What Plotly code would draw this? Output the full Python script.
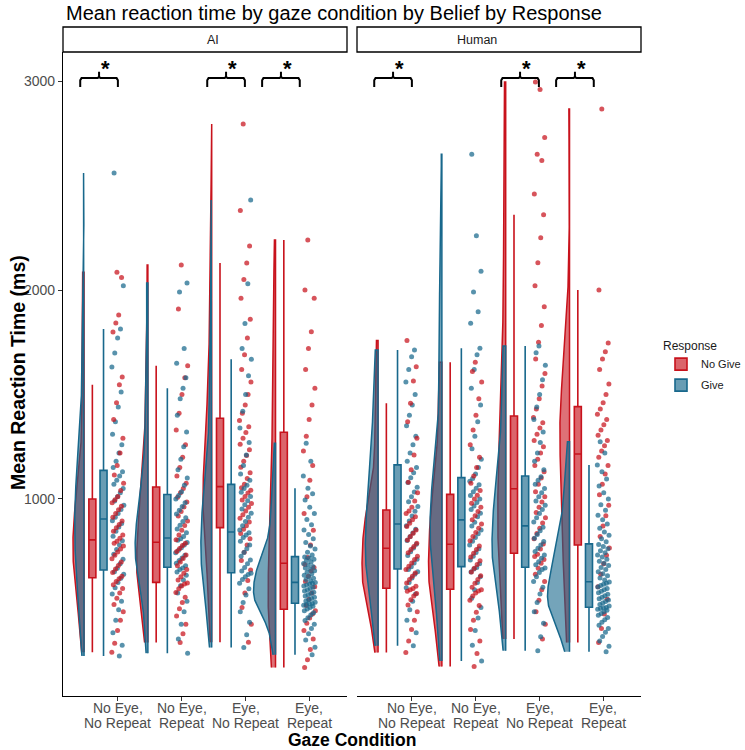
import numpy as np
import plotly.graph_objects as go

# ---------------- data ----------------
conditions = ["No Eye,\nNo Repeat", "No Eye,\nRepeat", "Eye,\nNo Repeat", "Eye,\nRepeat"]
beliefs = ["AI", "Human"]
responses = ["No Give", "Give"]
y_ticks = [1000, 2000, 3000]

# participant mean reaction times (ms), read from the jittered point clouds
ai_nogive_c1 = [266, 310, 370, 420, 460, 495, 525, 550, 572, 590, 605, 618, 630, 648, 665, 682, 698, 714, 730, 746, 760, 775, 788, 798,
                812, 828, 845, 862, 878, 895, 912, 930, 948, 965, 982, 996, 1012, 1040, 1075, 1115, 1160, 1220, 1290, 1380, 1460, 1546,
                1584, 1799, 1842, 1880, 2060, 2085]
ai_nogive_c2 = [313, 355, 400, 440, 475, 505, 530, 552, 570, 583, 593, 598, 612, 628, 645, 662, 680, 698, 715, 732, 748, 763, 777, 788,
                805, 828, 850, 873, 895, 918, 940, 962, 985, 1008, 1030, 1050, 1075, 1110, 1150, 1200, 1260, 1330, 1410, 1500, 1580, 1638,
                1909, 2120]
ai_nogive_c3 = [314, 400, 480, 550, 610, 660, 705, 745, 780, 810, 835, 855, 872, 890, 908, 925, 942, 960, 978, 995, 1012, 1028, 1042, 1054,
                1070, 1098, 1125, 1152, 1180, 1208, 1235, 1262, 1290, 1318, 1345, 1375, 1410, 1450, 1500, 1560, 1620, 1690, 1770, 1860,
                1960, 2050, 2129, 2210, 2380, 2794]
ai_nogive_c4 = [193, 230, 280, 330, 370, 405, 430, 450, 465, 490, 520, 550, 580, 605, 630, 655, 672, 686, 720, 780, 850, 930, 1010, 1090,
                1160, 1230, 1300, 1380, 1450, 1530, 1620, 1720, 1800, 1960, 2000, 2239]

ai_give_c1 = [249, 300, 360, 420, 470, 510, 545, 575, 600, 620, 640, 652, 668, 690, 712, 735, 758, 780, 800, 822, 845, 866, 882, 896,
              912, 930, 950, 970, 990, 1010, 1030, 1050, 1070, 1090, 1110, 1130, 1150, 1180, 1220, 1260, 1310, 1370, 1440, 1512, 1632,
              1699, 1770, 1813, 2020, 2560]
ai_give_c2 = [262, 330, 400, 460, 510, 550, 585, 612, 635, 650, 662, 670, 680, 692, 705, 718, 730, 742, 755, 767, 780, 792, 802, 810,
              820, 838, 856, 874, 892, 910, 928, 946, 964, 982, 1000, 1016, 1035, 1065, 1100, 1140, 1190, 1250, 1320, 1400, 1480, 1530,
              1580, 1650, 1720, 1990, 2034]
ai_give_c3 = [289, 350, 410, 460, 505, 540, 570, 596, 615, 628, 638, 644, 655, 672, 690, 708, 726, 744, 762, 780, 798, 815, 828, 838,
              852, 872, 892, 912, 932, 952, 972, 992, 1012, 1032, 1050, 1066, 1090, 1120, 1160, 1210, 1270, 1340, 1420, 1500, 1590,
              1668, 1720, 1840, 2030, 2431]
ai_give_c4 = [254, 290, 325, 355, 380, 400, 418, 432, 445, 456, 465, 473, 480, 486, 491, 495, 498, 500, 506, 512, 518, 524, 530, 536,
              542, 548, 554, 560, 566, 572, 578, 584, 589, 593, 597, 600, 607, 614, 621, 628, 635, 642, 649, 656, 663, 670, 677, 684,
              691, 698, 705, 711, 717, 722, 732, 745, 760, 775, 792, 810, 830, 852, 876, 902, 930, 960, 995, 1025, 1051, 1110, 1180, 1266]

human_nogive_c1 = [265, 320, 375, 420, 460, 492, 518, 535, 548, 558, 566, 571, 582, 598, 614, 630, 646, 662, 678, 694, 710, 726, 742, 758,
                   772, 788, 804, 820, 836, 852, 868, 884, 900, 915, 930, 942, 960, 990, 1030, 1080, 1140, 1210, 1290, 1370, 1458, 1565,
                   1633, 1758]
human_nogive_c2 = [198, 260, 320, 375, 420, 458, 490, 515, 535, 550, 560, 565, 578, 596, 614, 632, 650, 668, 686, 704, 722, 740, 758, 775,
                   800, 820, 840, 860, 880, 900, 920, 940, 960, 980, 1000, 1018, 1040, 1075, 1110, 1150, 1200, 1260, 1330, 1400, 1480,
                   1560, 1610, 1654]
human_nogive_c3 = [330, 400, 460, 515, 565, 605, 640, 668, 692, 710, 725, 735, 760, 785, 810, 835, 860, 885, 910, 935, 960, 985, 1010, 1035,
                   1070, 1100, 1130, 1160, 1190, 1220, 1250, 1280, 1310, 1340, 1365, 1390, 1430, 1480, 1540, 1600, 1670, 1750, 1830,
                   1920, 2020, 2130, 2250, 2360, 2460, 2620, 2650, 2730, 2960, 2995]
human_nogive_c4 = [313, 380, 450, 520, 580, 640, 690, 730, 765, 820, 870, 920, 970, 1020, 1070, 1120, 1160, 1200, 1230, 1255, 1280, 1305,
                   1330, 1355, 1380, 1405, 1430, 1460, 1500, 1550, 1620, 1670, 1705, 1746, 2000, 2866]

human_give_c1 = [297, 360, 420, 470, 510, 545, 575, 600, 622, 640, 652, 662, 675, 693, 711, 729, 747, 765, 783, 801, 819, 837, 855, 872,
                 895, 918, 941, 964, 987, 1010, 1033, 1056, 1079, 1102, 1125, 1150, 1180, 1220, 1260, 1300, 1350, 1400, 1450, 1500,
                 1560, 1620, 1680, 1713]
human_give_c2 = [225, 300, 370, 430, 480, 525, 565, 600, 628, 650, 665, 672, 690, 708, 726, 744, 762, 780, 798, 816, 834, 852, 870, 888,
                 915, 932, 949, 966, 983, 1000, 1017, 1034, 1051, 1068, 1085, 1098, 1120, 1150, 1190, 1240, 1300, 1370, 1450, 1530,
                 1620, 1690, 1721, 1841, 1896, 1990, 2090, 2260, 2650]
human_give_c3 = [274, 340, 405, 460, 505, 545, 578, 605, 628, 648, 662, 670, 685, 700, 716, 732, 748, 764, 780, 796, 812, 830, 848, 864,
                 890, 910, 930, 950, 970, 990, 1010, 1030, 1050, 1070, 1090, 1106, 1140, 1180, 1220, 1270, 1320, 1380, 1440, 1500,
                 1570, 1640, 1700, 1732]
human_give_c4 = [269, 295, 320, 342, 362, 380, 396, 410, 422, 433, 443, 452, 460, 467, 472, 476, 479, 481, 488, 495, 502, 509, 516, 523,
                 530, 537, 544, 551, 558, 565, 572, 579, 586, 592, 597, 602, 612, 622, 632, 642, 652, 662, 672, 682, 692, 702, 712, 722,
                 732, 742, 752, 762, 772, 782, 795, 810, 826, 842, 860, 880, 900, 922, 946, 972, 1000, 1030, 1062, 1095, 1130, 1163,
                 1220, 1274]

# box-plot statistics (ms): lower whisker, Q1, median, Q3, upper whisker
ai_nogive_lo = [266, 313, 314, 193]
ai_nogive_q1 = [623, 601, 863, 472]
ai_nogive_med = [804, 793, 1059, 692]
ai_nogive_q3 = [1000, 1057, 1386, 1319]
ai_nogive_hi = [1546, 1638, 2129, 2239]

ai_give_lo = [249, 262, 289, 254]
ai_give_q1 = [660, 673, 647, 501]
ai_give_med = [904, 813, 842, 601]
ai_give_q3 = [1137, 1021, 1070, 724]
ai_give_hi = [1813, 1530, 1668, 1051]

human_nogive_lo = [265, 198, 330, 313]
human_nogive_q1 = [573, 568, 740, 780]
human_nogive_med = [764, 783, 1049, 1215]
human_nogive_q3 = [947, 1022, 1397, 1442]
human_nogive_hi = [1458, 1654, 2360, 2000]

human_give_lo = [297, 225, 274, 269]
human_give_q1 = [665, 676, 673, 482]
human_give_med = [880, 900, 871, 604]
human_give_q3 = [1163, 1102, 1110, 785]
human_give_hi = [1713, 1721, 1732, 1163]

# significance brackets: (left, right) in category units, same in both panels
sig_brackets = [(0.41, 1.0), (2.40, 2.99), (3.26, 3.85)]
sig_level = 3014

# ---------------- assembly ----------------
raw = {
    "AI": {"No Give": [ai_nogive_c1, ai_nogive_c2, ai_nogive_c3, ai_nogive_c4],
           "Give": [ai_give_c1, ai_give_c2, ai_give_c3, ai_give_c4]},
    "Human": {"No Give": [human_nogive_c1, human_nogive_c2, human_nogive_c3, human_nogive_c4],
              "Give": [human_give_c1, human_give_c2, human_give_c3, human_give_c4]},
}
stats = {
    "AI": {"No Give": (ai_nogive_lo, ai_nogive_q1, ai_nogive_med, ai_nogive_q3, ai_nogive_hi),
           "Give": (ai_give_lo, ai_give_q1, ai_give_med, ai_give_q3, ai_give_hi)},
    "Human": {"No Give": (human_nogive_lo, human_nogive_q1, human_nogive_med, human_nogive_q3, human_nogive_hi),
              "Give": (human_give_lo, human_give_q1, human_give_med, human_give_q3, human_give_hi)},
}

COL = {"No Give": (200, 18, 28), "Give": (24, 104, 140)}
def rgba(c, a):
    return "rgba(%d,%d,%d,%.2f)" % (c[0], c[1], c[2], a)

VIOLIN_OFF = -0.53
BOX_OFF = {"No Give": -0.40, "Give": -0.225}
BOX_W = 0.11
VIOLIN_HALF = 0.345
JIT = 0.19


def kde(vals):
    v = np.asarray(vals, float)
    n = len(v)
    sd = v.std(ddof=1)
    q75, q25 = np.percentile(v, [75, 25])
    bw = 0.9 * min(sd, (q75 - q25) / 1.34) * n ** -0.2
    grid = np.linspace(v.min(), v.max(), 300)
    dens = np.exp(-0.5 * ((grid[:, None] - v[None, :]) / bw) ** 2).sum(1) / (n * bw * np.sqrt(2 * np.pi))
    return grid, dens


fig = go.Figure()
axes = {"AI": ("x", "y"), "Human": ("x2", "y2")}
xs = np.arange(1, 5)

for b in beliefs:
    xa, ya = axes[b]
    dens_all = {r: [kde(raw[b][r][i]) for i in range(4)] for r in responses}
    dmax = max(d.max() for r in responses for (_, d) in dens_all[r])
    # violins
    for r in responses:
        for i in range(4):
            g, d = dens_all[r][i]
            pos = xs[i] + VIOLIN_OFF
            hw = d / dmax * VIOLIN_HALF
            px = np.concatenate([pos - hw, [pos, pos]])
            py = np.concatenate([g, [g[-1], g[0]]])
            fig.add_trace(go.Scatter(x=px, y=py, xaxis=xa, yaxis=ya, mode="lines", fill="toself",
                                     fillcolor=rgba(COL[r], 0.6), line=dict(color=rgba(COL[r], 1), width=1.5),
                                     hoverinfo="skip", showlegend=False))
    # boxes
    for r in responses:
        lo, q1, med, q3, hi = stats[b][r]
        fig.add_trace(go.Box(x=list(xs + BOX_OFF[r]), lowerfence=lo, q1=q1, median=med, q3=q3, upperfence=hi,
                             xaxis=xa, yaxis=ya, width=BOX_W, whiskerwidth=0, boxpoints=False,
                             fillcolor=rgba(COL[r], 0.65), line=dict(color=rgba(COL[r], 1), width=1.6),
                             name=r, legendgroup=r, showlegend=(b == "AI")))
    # jittered points (red and blue interleaved)
    px, py, pc = [], [], []
    for i in range(4):
        a = raw[b]["No Give"][i]
        c = raw[b]["Give"][i]
        n = max(len(a), len(c))
        k = 0
        for j in range(n):
            for r, lst in (("No Give", a), ("Give", c)):
                if j < len(lst):
                    off = (((k * 0.6180339887) + 0.37 * i) % 1.0 - 0.5) * JIT
                    px.append(xs[i] + off)
                    py.append(lst[j])
                    pc.append(rgba(COL[r], 0.72))
                    k += 1
    fig.add_trace(go.Scatter(x=px, y=py, xaxis=xa, yaxis=ya, mode="markers",
                             marker=dict(size=5, color=pc, line=dict(width=0)),
                             hoverinfo="skip", showlegend=False))
    # significance brackets
    for (L, R) in sig_brackets:
        C = (L + R) / 2
        bx = [L, L, L + 0.02, C - 0.02, C, C, C, C + 0.02, R - 0.02, R, R]
        by = [sig_level - 43, sig_level - 10, sig_level, sig_level, sig_level + 8, sig_level + 30,
              sig_level + 8, sig_level, sig_level, sig_level - 10, sig_level - 43]
        fig.add_trace(go.Scatter(x=bx, y=by, xaxis=xa, yaxis=ya, mode="lines",
                                 line=dict(color="black", width=2), hoverinfo="skip", showlegend=False))
        fig.add_annotation(x=C + 0.1, y=sig_level + 48, xref=xa, yref=ya, text="<b>*</b>", showarrow=False,
                           font=dict(size=22, color="black", family="Liberation Sans, Arial"), yanchor="middle")

FONT = "Liberation Sans, Arial, sans-serif"
L_, R_, T_, B_ = 63, 104, 52, 54
W, H = 745, 750
pw = W - L_ - R_
ph = H - T_ - B_
d1 = 284 / pw
d2 = 294 / pw

xcommon = dict(range=[0.14, 4.59], tickvals=list(xs), showticklabels=False, showgrid=False, zeroline=False,
               showline=True, linecolor="black", linewidth=1.2, ticks="outside", ticklen=4, tickcolor="#333333")
fig.update_layout(
    width=W, height=H, margin=dict(l=L_, r=R_, t=T_, b=B_, autoexpand=False),
    paper_bgcolor="white", plot_bgcolor="white", boxmode="overlay",
    font=dict(family=FONT),
    xaxis=dict(domain=[0, d1], anchor="y", **xcommon),
    xaxis2=dict(domain=[d2, 1], anchor="y2", **xcommon),
    yaxis=dict(range=[57, 3139], tickvals=y_ticks, showgrid=False, zeroline=False, showline=True,
               linecolor="black", linewidth=1.2, ticks="outside", ticklen=4, tickcolor="#333333",
               tickfont=dict(size=14, color="#4d4d4d", family=FONT), anchor="x"),
    yaxis2=dict(range=[57, 3139], matches="y", showticklabels=False, showgrid=False, zeroline=False,
                showline=False, ticks="", anchor="x2"),
    legend=dict(x=(661 - L_) / pw, y=1 - (334 - T_) / ph, xanchor="left", yanchor="top", itemwidth=30,
                title=dict(text="Response", font=dict(size=12, color="#1a1a1a")),
                font=dict(size=11, color="#1a1a1a"), bgcolor="rgba(0,0,0,0)", tracegroupgap=2),
    showlegend=True,
)

# x tick labels (two lines each, tightly spaced as in the reference)
for xa in ("x", "x2"):
    for i, lab in enumerate(conditions):
        l1, l2 = lab.split("\n")
        for txt, ypx in ((l1, 708), (l2, 723)):
            fig.add_annotation(x=xs[i], y=-(ypx - (H - B_)) / ph, xref=xa, yref="paper", text=txt, showarrow=False,
                               xanchor="center", yanchor="middle", borderpad=0,
                               font=dict(size=14, color="#4d4d4d", family=FONT))

# facet strips
strip_h = 25 / ph
for (x0, x1), lab in (((0, d1), "AI"), ((d2, 1), "Human")):
    fig.add_shape(type="rect", xref="paper", yref="paper", x0=x0, x1=x1, y0=1, y1=1 + strip_h,
                  line=dict(color="black", width=1.3), fillcolor="white")
    fig.add_annotation(x=(x0 + x1) / 2, y=1 + strip_h / 2, xref="paper", yref="paper", text=lab, showarrow=False,
                       font=dict(size=12.5, color="#1a1a1a", family=FONT), yanchor="middle")

# titles
fig.add_annotation(x=(64 - L_) / pw, y=1 + (T_ - 13) / ph, xref="paper", yref="paper", xanchor="left", yanchor="middle",
                   text="Mean reaction time by gaze condition by Belief by Response", showarrow=False,
                   font=dict(size=20, color="black", family=FONT))
fig.add_annotation(x=(18 - L_) / pw, y=1 - (373 - T_) / ph, xref="paper", yref="paper", textangle=-90, xanchor="center",
                   yanchor="middle", text="<b>Mean Reaction Time (ms)</b>", showarrow=False,
                   font=dict(size=19.5, color="black", family=FONT))
fig.add_annotation(x=(352 - L_) / pw, y=-(740 - (H - B_)) / ph, xref="paper", yref="paper", xanchor="center",
                   yanchor="middle", text="<b>Gaze Condition</b>", showarrow=False, borderpad=0,
                   font=dict(size=17.5, color="black", family=FONT))

fig.write_html("out.html")
